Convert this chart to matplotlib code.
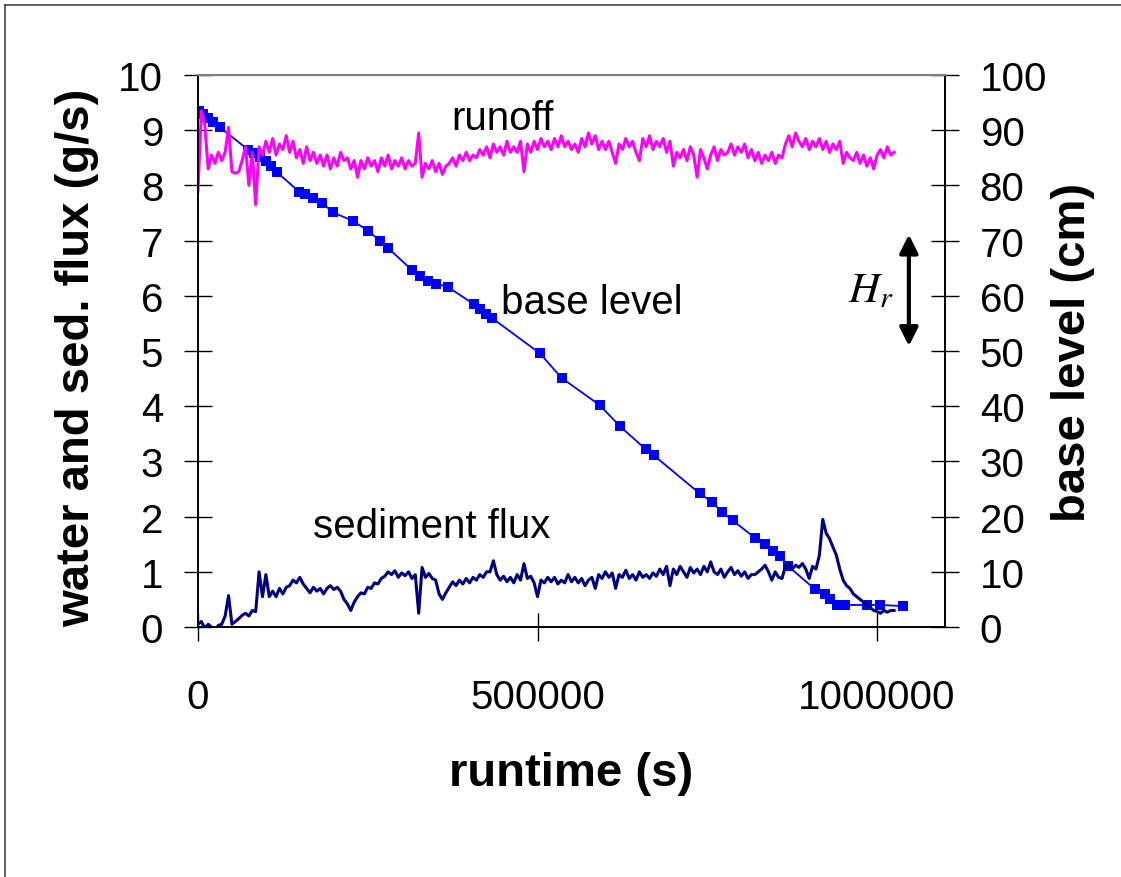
"""Runoff, sediment flux and base level against runtime."""

import matplotlib

matplotlib.use("Agg")
import matplotlib.pyplot as plt
import numpy as np
from matplotlib.lines import Line2D

plt.rcParams["font.family"] = ["Liberation Sans", "DejaVu Sans"]
plt.rcParams["mathtext.fontset"] = "stix"

# sampling interval of the flux records (s)
flux_step = 5000

# runoff (g/s), one reading every flux_step seconds
runoff = [
    7.9, 9.35, 9.1, 8.3, 8.55, 8.4, 8.6, 8.45, 8.6, 9.05,
    8.25, 8.22, 8.25, 8.45, 8.7, 8.0, 8.6, 7.65, 8.7, 8.55,
    8.8, 8.6, 8.85, 8.55, 8.75, 8.65, 8.9, 8.6, 8.8, 8.5,
    8.65, 8.4, 8.7, 8.45, 8.6, 8.4, 8.55, 8.35, 8.55, 8.3,
    8.5, 8.35, 8.6, 8.45, 8.5, 8.3, 8.45, 8.15, 8.45, 8.3,
    8.5, 8.35, 8.45, 8.25, 8.5, 8.35, 8.55, 8.3, 8.45, 8.35,
    8.5, 8.3, 8.45, 8.35, 8.4, 8.95, 8.15, 8.4, 8.3, 8.45,
    8.25, 8.4, 8.2, 8.35, 8.4, 8.5, 8.35, 8.55, 8.45, 8.6,
    8.45, 8.55, 8.5, 8.65, 8.55, 8.7, 8.5, 8.75, 8.6, 8.7,
    8.55, 8.8, 8.6, 8.7, 8.6, 8.8, 8.25, 8.75, 8.6, 8.8,
    8.65, 8.85, 8.7, 8.8, 8.65, 8.85, 8.7, 8.9, 8.7, 8.8,
    8.65, 8.75, 8.6, 8.85, 8.7, 8.95, 8.75, 8.9, 8.65, 8.8,
    8.65, 8.8, 8.6, 8.4, 8.75, 8.65, 8.85, 8.7, 8.8, 8.6,
    8.45, 8.85, 8.7, 8.9, 8.65, 8.8, 8.7, 8.85, 8.6, 8.8,
    8.35, 8.6, 8.5, 8.65, 8.45, 8.7, 8.55, 8.15, 8.65, 8.5,
    8.3, 8.55, 8.7, 8.45, 8.65, 8.55, 8.6, 8.75, 8.55, 8.7,
    8.6, 8.75, 8.5, 8.65, 8.45, 8.6, 8.4, 8.55, 8.45, 8.6,
    8.4, 8.55, 8.5, 8.75, 8.9, 8.7, 8.95, 8.8, 8.7, 8.85,
    8.65, 8.8, 8.7, 8.85, 8.65, 8.8, 8.6, 8.75, 8.65, 8.8,
    8.4, 8.6, 8.5, 8.45, 8.6, 8.4, 8.55, 8.35, 8.5, 8.3,
    8.55, 8.65, 8.5, 8.7, 8.55, 8.6,
]

# sediment flux (g/s), same sampling
sediment_flux = [
    0.05, 0.1, -0.02, 0.05, 0.0, -0.06, 0.03, 0.05, 0.2, 0.57,
    0.05, 0.1, 0.15, 0.21, 0.25, 0.2, 0.3, 0.28, 1.0, 0.55,
    0.95, 0.55, 0.65, 0.55, 0.7, 0.6, 0.72, 0.75, 0.85, 0.8,
    0.9, 0.78, 0.7, 0.62, 0.72, 0.65, 0.7, 0.6, 0.7, 0.75,
    0.68, 0.72, 0.65, 0.5, 0.42, 0.3, 0.45, 0.55, 0.62, 0.6,
    0.72, 0.7, 0.8, 0.78, 0.88, 0.92, 1.0, 0.95, 1.02, 0.9,
    0.98, 0.93, 1.0, 0.88, 0.95, 0.25, 1.08, 0.9, 0.97, 0.88,
    0.85, 0.6, 0.5, 0.62, 0.72, 0.82, 0.75, 0.85, 0.78, 0.88,
    0.8, 0.9, 0.85, 0.95, 0.9, 1.0, 1.0, 1.2, 0.95, 0.85,
    0.92, 0.82, 0.9, 0.8, 0.95, 0.85, 1.15, 0.88, 0.92, 0.8,
    0.55, 0.85, 0.8, 0.9, 0.82, 0.9, 0.78, 0.85, 0.8, 0.95,
    0.82, 0.9, 0.8, 0.88, 0.75, 0.85, 0.9, 0.7, 0.95, 0.88,
    1.0, 0.9, 0.98, 0.7, 0.95, 0.9, 1.03, 0.88, 0.95, 0.85,
    1.0, 0.9, 0.95, 0.88, 0.98, 0.92, 1.05, 0.95, 1.1, 0.75,
    1.05, 0.95, 1.1, 1.0, 0.9, 1.08, 0.98, 1.05, 0.95, 1.1,
    1.0, 1.18, 1.0, 0.95, 1.05, 0.9, 1.0, 1.08, 0.95, 1.02,
    0.92, 1.0, 0.88, 0.95, 0.95, 1.0, 1.05, 1.12, 1.0, 0.85,
    1.0, 0.9, 0.88, 1.1, 1.15, 1.05, 1.12, 1.08, 1.15, 1.05,
    0.88, 1.1, 1.05, 1.3, 1.95, 1.7, 1.6, 1.45, 1.3, 1.05,
    0.85, 0.75, 0.7, 0.6, 0.55, 0.5, 0.45, 0.4, 0.35, 0.3,
    0.28, 0.25, 0.3, 0.27, 0.3, 0.3,
]

# base level measurements: runtime (s) and elevation (cm)
base_time = [
    1500, 7400, 14700, 22100, 32400, 73600, 82400, 91200, 100000, 107400,
    116300, 148600, 157500, 169200, 182500, 198700, 228100, 250200, 267900,
    279600, 314900, 326700, 338500, 350300, 367900, 406200, 415000, 423800,
    432700, 503300, 535700, 591600, 621100, 659300, 671100, 738800, 756500,
    771200, 787400, 819700, 834400, 846200, 856600, 868300, 908000, 922800,
    930100, 940400, 952200, 984600, 1003700, 1037500,
]
base_level = [
    93.5, 92.9, 92.2, 91.5, 90.5, 86.5, 85.8, 85.1, 84.4, 83.6,
    82.4, 78.9, 78.5, 77.8, 76.9, 75.1, 73.6, 71.8, 70.0,
    68.7, 64.7, 63.6, 62.7, 62.2, 61.6, 58.5, 57.6, 56.7,
    56.0, 49.6, 45.1, 40.2, 36.4, 32.2, 31.1, 24.2, 22.7,
    20.9, 19.3, 16.2, 15.1, 13.8, 12.9, 11.1, 6.9, 6.0,
    5.1, 4.0, 4.0, 4.0, 4.0, 3.8,
]

x_ticks = [0, 500000, 1000000]
left_ticks = list(range(0, 11))
right_ticks = list(range(0, 101, 10))

flux_time = np.arange(len(runoff)) * flux_step

fig = plt.figure(figsize=(11.21, 8.78), dpi=100)
ax = fig.add_axes([0.1766, 0.2847, 0.6664, 0.6287])
ax2 = ax.twinx()

# primary series above the base level curve
ax.set_zorder(ax2.get_zorder() + 1)
ax.patch.set_visible(False)

ax2.plot(base_time, base_level, color="#0000ff", linewidth=1.3,
         marker="s", markersize=6.5, markeredgewidth=0)
ax.plot(flux_time, runoff, color="#ff00ff", linewidth=2.2)
ax.plot(flux_time[:len(sediment_flux)], sediment_flux, color="#000080",
        linewidth=2.2)

ax.set_xlim(0, 1100000)
ax.set_ylim(0, 10)
ax2.set_ylim(0, 100)
ax.set_xticks(x_ticks)
ax.set_xticklabels([str(v) for v in x_ticks])
ax.set_yticks(left_ticks)
ax2.set_yticks(right_ticks)

tick_kw = dict(direction="inout", length=20, width=1.0, labelsize=29,
               colors="black")
ax.tick_params(axis="y", pad=15, **tick_kw)
ax.tick_params(axis="x", pad=27, **tick_kw)
ax2.tick_params(axis="y", pad=15, **tick_kw)

for a in (ax, ax2):
    a.spines["top"].set_color("#808080")
    a.spines["top"].set_linewidth(1.5)
    for side in ("left", "right", "bottom"):
        a.spines[side].set_color("black")
        a.spines[side].set_linewidth(1.2)

ax.set_xlabel("runtime (s)", fontsize=34, fontweight="bold")
ax.set_ylabel("water and sed. flux (g/s)", fontsize=34, fontweight="bold")
ax2.set_ylabel("base level (cm)", fontsize=34, fontweight="bold")
ax.xaxis.set_label_coords(0.5, -0.225)
ax.yaxis.set_label_coords(-0.132, 0.49)
ax2.yaxis.set_label_coords(1.142, 0.5)

ax.text(448900, 9.02, "runoff", fontsize=29, ha="center", va="baseline")
ax.text(579400, 5.69, "base level", fontsize=29, ha="center", va="baseline")
ax.text(344000, 1.63, "sediment flux", fontsize=29, ha="center",
        va="baseline")

ax2.text(956600, 59.0, r"$H_r$", fontsize=31, ha="left", va="baseline")
ax2.annotate(
    "",
    xy=(1046800, 71.1),
    xytext=(1046800, 50.9),
    arrowprops=dict(arrowstyle="<|-|>,head_length=0.5,head_width=0.25",
                    color="black", lw=3, mutation_scale=22,
                    shrinkA=0, shrinkB=0),
)

# page border
fig.add_artist(Line2D([0.0045, 1.0], [0.9937, 0.9937], color="#444444",
                      linewidth=1.2, transform=fig.transFigure))
fig.add_artist(Line2D([0.0045, 0.0045], [0.0, 0.9937], color="#444444",
                      linewidth=1.2, transform=fig.transFigure))

fig.savefig("out.png", dpi=100)
